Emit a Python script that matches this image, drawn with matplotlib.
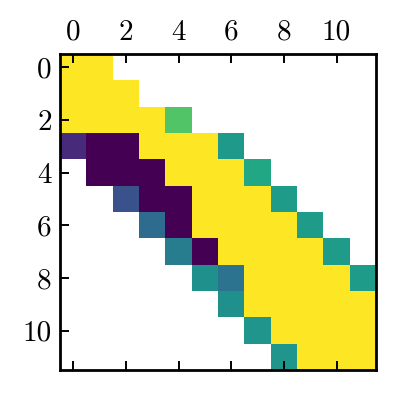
import numpy as np
import matplotlib
matplotlib.use("Agg")
import matplotlib.pyplot as plt

plt.rcParams["font.family"] = "serif"
plt.rcParams["font.serif"] = ["cmr10", "DejaVu Serif"]
plt.rcParams["axes.unicode_minus"] = False

# Matrix values (NaN = empty cell), rows 0..11
nan = np.nan
row0 = [1, 1] + [nan] * 10
row1 = [1, 1, 1] + [nan] * 9
row2 = [1, 1, 1, 1, 0.73] + [nan] * 7
row3 = [0.12, 0, 0, 1, 1, 1, 0.54] + [nan] * 5
row4 = [nan, 0, 0, 0, 1, 1, 1, 0.6] + [nan] * 4
row5 = [nan, nan, 0.25, 0, 0, 1, 1, 1, 0.55] + [nan] * 3
row6 = [nan] * 3 + [0.35, 0, 1, 1, 1, 1, 0.55, nan, nan]
row7 = [nan] * 4 + [0.42, 0, 1, 1, 1, 1, 0.55, nan]
row8 = [nan] * 5 + [0.5, 0.38, 1, 1, 1, 1, 0.55]
row9 = [nan] * 6 + [0.5, 1, 1, 1, 1, 1]
row10 = [nan] * 7 + [0.52, 1, 1, 1, 1]
row11 = [nan] * 8 + [0.52, 1, 1, 1]

mat = np.array([row0, row1, row2, row3, row4, row5,
                row6, row7, row8, row9, row10, row11], dtype=float)
ticks = [0, 2, 4, 6, 8, 10]

fig = plt.figure(figsize=(4.07, 4.07), dpi=100)
ax = fig.add_axes([60 / 407, 37 / 407, 316 / 407, 316 / 407])

ax.imshow(mat, cmap="viridis", vmin=0, vmax=1, interpolation="nearest", aspect="auto")

ax.set_xticks(ticks)
ax.set_yticks(ticks)
ax.xaxis.tick_top()
ax.tick_params(axis="x", which="both", top=True, bottom=True, labeltop=True,
               labelbottom=False, direction="in", length=6.5, width=1.4,
               labelsize=21, pad=6)
ax.tick_params(axis="y", which="both", left=True, right=False, direction="in",
               length=6.5, width=1.4, labelsize=21, pad=6)
ax.minorticks_off()
for s in ax.spines.values():
    s.set_linewidth(2.0)

fig.savefig("out.png", dpi=100)
